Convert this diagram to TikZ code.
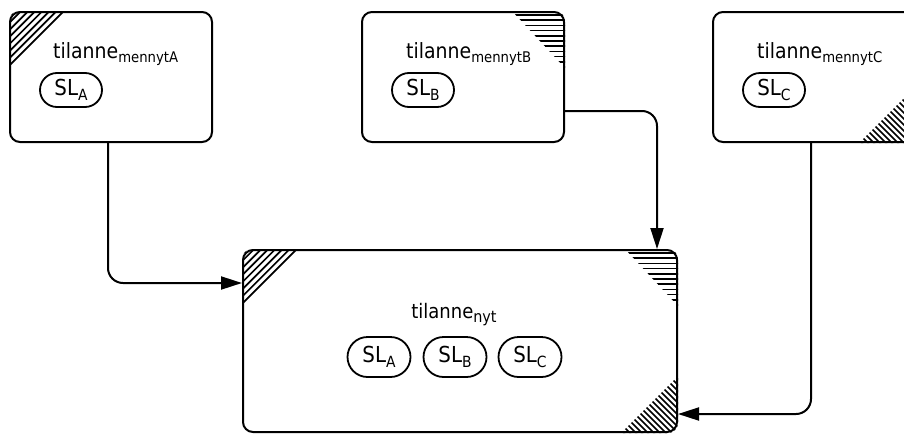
\documentclass[tikz,border=0pt]{standalone}
\usepackage{fontspec}
\setmainfont{DejaVu Sans Condensed}
\usetikzlibrary{arrows.meta,calc,shapes.misc}

% lowered, smaller index text
\newcommand\lowsub[2][0.7]{\raisebox{-0.22em}{\scalebox{#1}{#2}}}

\tikzset{
  stbox/.style={draw, line width=2pt, rounded corners=10pt, minimum width=202pt,
    minimum height=130pt, inner sep=0pt},
  bigbox/.style={draw, line width=2pt, rounded corners=10pt, minimum width=434pt,
    minimum height=182pt, inner sep=0pt},
  ttl/.style={font=\fontsize{21pt}{24pt}\selectfont, inner sep=0pt, anchor=base west},
  pill/.style={draw, line width=1.8pt, rounded rectangle, minimum width=62pt,
    minimum height=34pt, inner sep=0pt, font=\fontsize{22pt}{24pt}\selectfont},
  bigpill/.style={pill, minimum width=63pt, minimum height=40pt},
  hatch/.style={line width=1.7pt},
  conn/.style={line width=2pt, rounded corners=15pt, -{Triangle[length=21pt,width=13pt]}},
}

% hatch patterns in the corners of a box node
\newcommand\hatchTL[1]{%
  \begin{scope}
    \clip[rounded corners=10pt] (#1.south west) rectangle (#1.north east);
    \clip (#1.north west) -- ++(57,0) -- ++(-57,57) -- cycle;
    \foreach \k in {7.1,14.2,...,64}
      \draw[hatch] ($(#1.north west)+(\k,-2)$) -- ($(#1.north west)+(-2,\k)$);
  \end{scope}}
\newcommand\hatchTR[1]{%
  \begin{scope}
    \clip[rounded corners=10pt] (#1.south west) rectangle (#1.north east);
    \clip (#1.north east) -- ++(-53,0) -- ++(53,57) -- cycle;
    \foreach \d in {4,9.2,...,60}
      \draw[hatch] ($(#1.north east)+(-60,\d)$) -- ($(#1.north east)+(2,\d)$);
  \end{scope}}
\newcommand\hatchBR[1]{%
  \begin{scope}
    \clip[rounded corners=10pt] (#1.south west) rectangle (#1.north east);
    \clip (#1.south east) -- ++(-57,0) -- ++(57,-57) -- cycle;
    \foreach \s in {-66,-60,...,66}
      \draw[hatch] ($(#1.south east)+(-\s-70,-70)$) -- ($(#1.south east)+(-\s+10,10)$);
  \end{scope}}

\begin{document}
\begin{tikzpicture}[x=1pt, y=-1pt]
  \useasboundingbox (0,0) rectangle (904,434);

  % earlier states
  \node[stbox] (A) at (111,77) {};
  \node[stbox] (B) at (463,77) {};
  \node[stbox] (C) at (814,77) {};
  % new state
  \node[bigbox] (N) at (460,341) {};

  \hatchTL{A}
  \hatchTR{B}
  \hatchBR{C}
  \hatchTL{N}
  \hatchTR{N}
  \hatchBR{N}

  \node[ttl] (At) at (53,58) {tilanne\lowsub{mennytA}};
  \node[ttl] (Bt) at (406,58) {tilanne\lowsub{mennytB}};
  \node[ttl] (Ct) at (757,58) {tilanne\lowsub{mennytC}};

  \node[pill] (Ap) at (71,90) {SL\lowsub{A}};
  \node[pill] (Bp) at (423,90) {SL\lowsub{B}};
  \node[pill] (Cp) at (774,90) {SL\lowsub{C}};

  \node[ttl, anchor=base, font=\fontsize{20pt}{22pt}\selectfont] (Nt) at (454,318)
    {tilanne\lowsub[0.8]{nyt}};
  \node[bigpill] (Na) at (379,357) {SL\lowsub{A}};
  \node[bigpill] (Nb) at (455,357) {SL\lowsub{B}};
  \node[bigpill] (Nc) at (530,357) {SL\lowsub{C}};

  % connectors
  \draw[conn] ([xshift=-3pt]A.south) |- ($(N.north west)+(0,34)$);
  \draw[conn] ($(B.east)+(0,34)$) -| ($(N.north east)+(-21,0)$);
  \draw[conn] ([xshift=-3pt]C.south) |- ($(N.south east)+(0,-19)$);
\end{tikzpicture}
\end{document}
